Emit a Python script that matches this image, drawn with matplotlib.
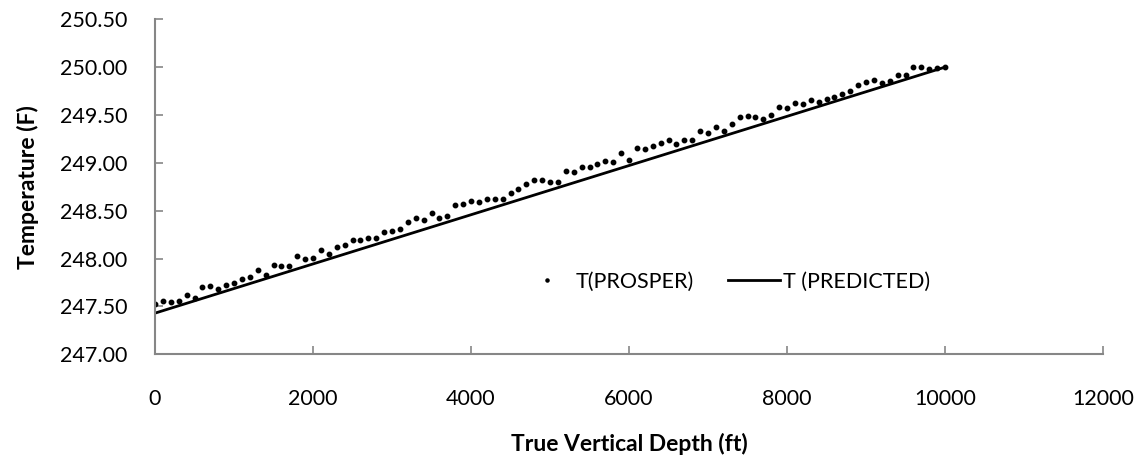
import matplotlib
matplotlib.use("Agg")
import matplotlib.pyplot as plt
from matplotlib.ticker import FormatStrFormatter

plt.rcParams['font.family'] = ['Lato', 'DejaVu Sans']

# Data
depth_prosper = list(range(0, 10001, 100))
temp_prosper = [
    247.53, 247.56, 247.55, 247.56, 247.62, 247.59, 247.70, 247.71, 247.68, 247.72,
    247.74, 247.79, 247.81, 247.88, 247.83, 247.93, 247.92, 247.92, 248.03, 248.00,
    248.01, 248.09, 248.05, 248.12, 248.14, 248.19, 248.19, 248.22, 248.22, 248.28,
    248.29, 248.31, 248.38, 248.42, 248.40, 248.48, 248.42, 248.45, 248.56, 248.57,
    248.60, 248.59, 248.62, 248.62, 248.62, 248.69, 248.73, 248.78, 248.82, 248.82,
    248.80, 248.80, 248.92, 248.90, 248.96, 248.96, 248.99, 249.02, 249.01, 249.10,
    249.03, 249.16, 249.15, 249.18, 249.21, 249.24, 249.20, 249.24, 249.24, 249.33,
    249.31, 249.38, 249.33, 249.41, 249.48, 249.49, 249.48, 249.46, 249.50, 249.58,
    249.57, 249.63, 249.62, 249.66, 249.64, 249.67, 249.69, 249.72, 249.75, 249.81,
    249.85, 249.87, 249.83, 249.86, 249.92, 249.92, 250.00, 250.00, 249.98, 249.99,
    250.00,
]
depth_predicted = [0, 10000]
temp_predicted = [247.43, 250.00]

x_ticks = [0, 2000, 4000, 6000, 8000, 10000, 12000]
y_ticks = [247.0, 247.5, 248.0, 248.5, 249.0, 249.5, 250.0, 250.5]

fig = plt.figure(figsize=(11.42, 4.55), dpi=100)
ax = fig.add_axes([155/1142, 1 - 354.3/455, (1103-155)/1142, (354.3-19.3)/455])

ax.plot(depth_prosper, temp_prosper, linestyle='none', marker='o', markersize=3.2,
        color='black', label='T(PROSPER)')
ax.plot(depth_predicted, temp_predicted, color='black', linewidth=2.0,
        label='T (PREDICTED)')

ax.set_xlim(0, 12000)
ax.set_ylim(247.0, 250.5)
ax.set_xticks(x_ticks)
ax.set_yticks(y_ticks)
ax.yaxis.set_major_formatter(FormatStrFormatter('%.2f'))

for s in ['top', 'right']:
    ax.spines[s].set_visible(False)
for s in ['left', 'bottom']:
    ax.spines[s].set_color('#868686')
    ax.spines[s].set_linewidth(1.5)

ax.tick_params(axis='both', direction='in', length=5.5, width=1.2, color='#868686',
               labelsize=15.5, labelcolor='black')
ax.tick_params(axis='x', pad=25)
ax.tick_params(axis='y', pad=20)

ax.set_xlabel('True Vertical Depth (ft)', fontsize=16.5, fontweight='bold', labelpad=17)
ax.set_ylabel('Temperature (F)', fontsize=16.5, fontweight='bold', labelpad=15)

leg = ax.legend(loc='center', bbox_to_anchor=(0.602, 0.217), ncol=2, frameon=False,
                fontsize=15.5, handlelength=2.4, columnspacing=1.6, handletextpad=0.12,
                markerscale=0.7)

fig.savefig('out.png', dpi=100)
